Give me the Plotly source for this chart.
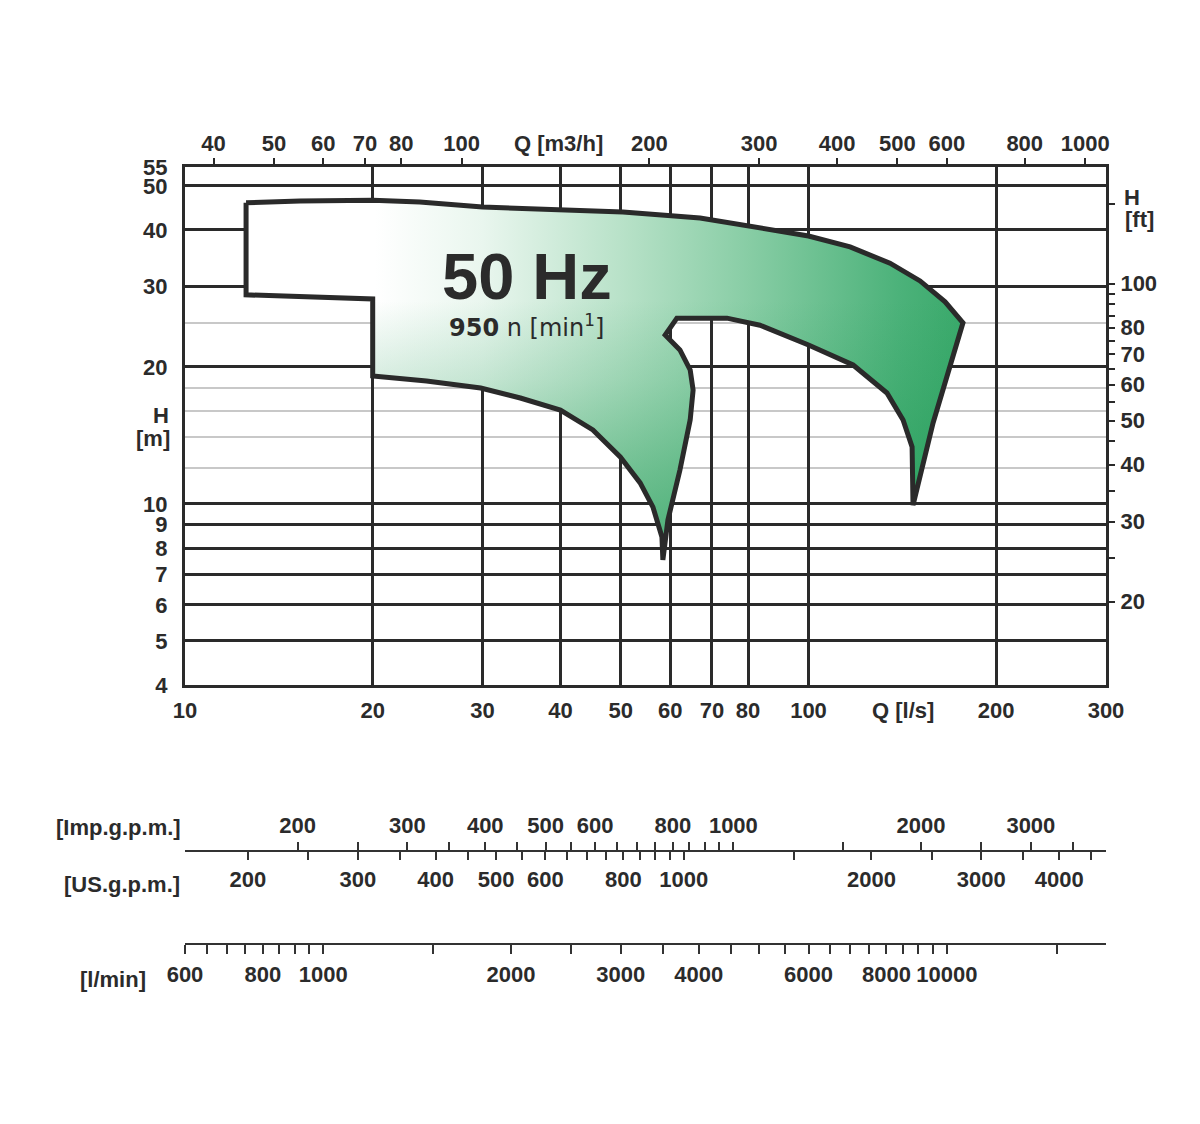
import plotly.graph_objects as go
import math

# ---------------- unit conversions (from l/s and m) ----------------
M3H_PER_LS = 3.6
IMP_GPM_PER_LS = 13.198
US_GPM_PER_LS = 15.850
LMIN_PER_LS = 60.0
FT_PER_M = 1 / 0.3048

Q_RANGE = [10, 300]   # l/s
H_RANGE = [4, 55]     # m

# ---------------- axis / grid values ----------------
q_ticks = [10, 20, 30, 40, 50, 60, 70, 80, 100, 200, 300]
h_ticks = [4, 5, 6, 7, 8, 9, 10, 20, 30, 40, 50, 55]
h_minor_grid = [12, 14, 16, 18, 25]
m3h_ticks = [40, 50, 60, 70, 80, 100, 200, 300, 400, 500, 600, 800, 1000]
ft_ticks = [20, 30, 40, 50, 60, 70, 80, 100]
ft_minor = [25, 35, 45, 55, 65, 75, 85, 90, 95, 150]
imp_ticks = [200, 300, 400, 500, 600, 800, 1000, 2000, 3000]
imp_minor = [250, 350, 450, 550, 650, 700, 750, 850, 900, 950, 1500, 2500, 3500]
us_ticks = [200, 300, 400, 500, 600, 800, 1000, 2000, 3000, 4000]
us_minor = [250, 350, 450, 550, 650, 700, 750, 850, 900, 950, 1500, 2500, 3500, 4500]
lmin_ticks = [600, 800, 1000, 2000, 3000, 4000, 6000, 8000, 10000]
lmin_minor = [650, 700, 750, 850, 900, 950, 1500, 2500, 3500, 4500, 5000, 5500,
              6500, 7000, 7500, 8500, 9000, 9500, 15000]

# ---------------- performance field outline (Q in l/s, H in m) ----------------
outline_q = [12.53, 15.29, 20.0, 23.8, 30.0, 40.0, 50.4, 67.0, 83.6, 100.0, 116.6,
             135.1, 151.0, 165.6, 176.9,
             168.6, 158.4, 147.1,
             147.1, 146.6, 141.8, 133.6, 117.9, 100.0, 83.6, 74.0, 61.5,
             58.9, 62.2, 64.6, 65.3, 64.6, 62.2, 59.5, 58.4,
             58.2, 56.3, 53.7, 49.9, 45.1, 40.0, 34.5, 29.8, 24.4, 20.0,
             20.0, 12.53, 12.53]
outline_h = [45.9, 46.3, 46.5, 46.1, 44.9, 44.3, 43.8, 42.5, 40.3, 38.8, 36.7,
             33.8, 30.9, 27.8, 25.0,
             20.0, 15.06, 9.94,
             11.87, 13.34, 15.29, 17.53, 20.2, 22.35, 24.7, 25.6, 25.6,
             23.5, 21.8, 19.7, 17.8, 15.3, 11.87, 9.22, 7.53,
             8.46, 9.84, 11.12, 12.68, 14.54, 16.08, 17.09, 17.98, 18.63, 19.1,
             28.2, 28.8, 45.9]

# left-to-right base shading and bottom-up darkening overlay (gives a diagonal look)
shade_horizontal = [[0.0, '#ffffff'], [0.18, '#ffffff'], [0.33, '#e9f6ee'],
                    [0.52, '#b9e2c9'], [0.70, '#88cda5'], [0.91, '#4cb27a'],
                    [1.0, '#3aa96b']]
shade_vertical = [[0.0, 'rgba(29,153,83,0.68)'], [0.25, 'rgba(29,153,83,0.45)'],
                  [0.5, 'rgba(29,153,83,0.18)'], [0.72, 'rgba(29,153,83,0.0)'],
                  [1.0, 'rgba(29,153,83,0.0)']]

W, H = 1200, 1124
PX_L, PX_R, PX_T, PX_B = 185, 1106, 167, 685
TXT = '#2b2b2b'
GRID = '#2a2a2a'
FONT = 'Liberation Sans, Arial, sans-serif'


def px(x):
    return x / W


def py(y):
    return 1 - y / H


def lg(v):
    return math.log10(v)


fig = go.Figure()

fig.add_trace(go.Scatter(
    x=outline_q, y=outline_h, mode='lines', fill='toself',
    fillgradient=dict(type='horizontal', colorscale=shade_horizontal),
    line=dict(width=0), hoverinfo='skip', showlegend=False))
fig.add_trace(go.Scatter(
    x=outline_q, y=outline_h, mode='lines', fill='toself',
    fillgradient=dict(type='vertical', colorscale=shade_vertical),
    line=dict(width=0), hoverinfo='skip', showlegend=False))
fig.add_trace(go.Scatter(
    x=outline_q, y=outline_h, mode='lines',
    line=dict(color=GRID, width=5), hoverinfo='skip', showlegend=False))

# invisible helper traces so every secondary scale is rendered
for ax, f in [('x2', M3H_PER_LS), ('x3', IMP_GPM_PER_LS), ('x4', US_GPM_PER_LS),
              ('x5', LMIN_PER_LS)]:
    fig.add_trace(go.Scatter(x=[Q_RANGE[0] * f, Q_RANGE[1] * f], y=H_RANGE,
                             xaxis=ax, yaxis='y', mode='markers',
                             marker=dict(opacity=0), hoverinfo='skip', showlegend=False))
fig.add_trace(go.Scatter(x=Q_RANGE, y=[H_RANGE[0] * FT_PER_M, H_RANGE[1] * FT_PER_M],
                         xaxis='x', yaxis='y2', mode='markers',
                         marker=dict(opacity=0), hoverinfo='skip', showlegend=False))

tick_font = dict(family=FONT, size=22, color=TXT, weight='bold')
xdom = [px(PX_L), px(PX_R)]

fig.update_layout(
    width=W, height=H, margin=dict(l=0, r=0, t=0, b=0, pad=0),
    paper_bgcolor='white', plot_bgcolor='white', showlegend=False,
    xaxis=dict(type='log', range=[lg(Q_RANGE[0]), lg(Q_RANGE[1])], domain=xdom,
               automargin=False,
               tickmode='array', tickvals=q_ticks, ticktext=[str(v) for v in q_ticks],
               showgrid=True, gridcolor=GRID, gridwidth=2.5, ticks='',
               showline=True, linecolor=GRID, linewidth=3, mirror=True,
               tickfont=tick_font, ticklabelstandoff=4, zeroline=False),
    yaxis=dict(type='log', range=[lg(H_RANGE[0]), lg(H_RANGE[1])],
               domain=[py(PX_B), py(PX_T)], automargin=False,
               tickmode='array', tickvals=h_ticks, ticktext=[str(v) for v in h_ticks],
               showgrid=True, gridcolor=GRID, gridwidth=2.5, ticks='',
               minor=dict(tickmode='array', tickvals=h_minor_grid, showgrid=True,
                          gridcolor='#c8c8c8', gridwidth=2, ticks=''),
               showline=True, linecolor=GRID, linewidth=3, mirror=True,
               tickfont=tick_font, ticklabelstandoff=10, zeroline=False),
    xaxis2=dict(type='log', overlaying='x', side='top', anchor='y', automargin=False,
                range=[lg(Q_RANGE[0] * M3H_PER_LS), lg(Q_RANGE[1] * M3H_PER_LS)],
                tickmode='array', tickvals=m3h_ticks, ticktext=[str(v) for v in m3h_ticks],
                ticks='outside', ticklen=8, tickwidth=2, tickcolor=GRID,
                showgrid=False, showline=False, tickfont=tick_font, ticklabelstandoff=-2),
    yaxis2=dict(type='log', overlaying='y', side='right', anchor='x', automargin=False,
                range=[lg(H_RANGE[0] * FT_PER_M), lg(H_RANGE[1] * FT_PER_M)],
                tickmode='array', tickvals=ft_ticks, ticktext=[str(v) for v in ft_ticks],
                ticks='outside', ticklen=8, tickwidth=2, tickcolor=GRID,
                minor=dict(tickmode='array', tickvals=ft_minor, ticks='outside',
                           ticklen=8, tickwidth=2, tickcolor=GRID, showgrid=False),
                showgrid=False, showline=False, tickfont=tick_font, ticklabelstandoff=1),
    xaxis3=dict(type='log', overlaying='x', side='top', anchor='free', position=py(851),
                automargin=False,
                range=[lg(Q_RANGE[0] * IMP_GPM_PER_LS), lg(Q_RANGE[1] * IMP_GPM_PER_LS)],
                tickmode='array', tickvals=imp_ticks, ticktext=[str(v) for v in imp_ticks],
                ticks='outside', ticklen=8, tickwidth=1.5, tickcolor='#333',
                minor=dict(tickmode='array', tickvals=imp_minor, ticks='outside',
                           ticklen=8, tickwidth=1.5, tickcolor='#333', showgrid=False),
                showgrid=False, showline=True, linecolor='#333', linewidth=2,
                tickfont=tick_font, ticklabelstandoff=0),
    xaxis4=dict(type='log', overlaying='x', side='bottom', anchor='free', position=py(851),
                automargin=False,
                range=[lg(Q_RANGE[0] * US_GPM_PER_LS), lg(Q_RANGE[1] * US_GPM_PER_LS)],
                tickmode='array', tickvals=us_ticks, ticktext=[str(v) for v in us_ticks],
                ticks='outside', ticklen=8, tickwidth=1.5, tickcolor='#333',
                minor=dict(tickmode='array', tickvals=us_minor, ticks='outside',
                           ticklen=8, tickwidth=1.5, tickcolor='#333', showgrid=False),
                showgrid=False, showline=False, tickfont=tick_font, ticklabelstandoff=1),
    xaxis5=dict(type='log', overlaying='x', side='bottom', anchor='free', position=py(944),
                automargin=False,
                range=[lg(Q_RANGE[0] * LMIN_PER_LS), lg(Q_RANGE[1] * LMIN_PER_LS)],
                tickmode='array', tickvals=lmin_ticks, ticktext=[str(v) for v in lmin_ticks],
                ticks='outside', ticklen=9, tickwidth=1.5, tickcolor='#333',
                minor=dict(tickmode='array', tickvals=lmin_minor, ticks='outside',
                           ticklen=9, tickwidth=1.5, tickcolor='#333', showgrid=False),
                showgrid=False, showline=True, linecolor='#333', linewidth=2,
                tickfont=tick_font, ticklabelstandoff=2),
)

ann_font = dict(family=FONT, size=22, color=TXT, weight='bold')
annotations = [
    dict(text='H', x=px(161), y=py(415), xanchor='center'),
    dict(text='[m]', x=px(153), y=py(438), xanchor='center'),
    dict(text='H', x=px(1132), y=py(197), xanchor='center'),
    dict(text='[ft]', x=px(1139), y=py(219), xanchor='center'),
    dict(text='Q [m3/h]', x=px(558), y=py(143), xanchor='center'),
    dict(text='Q [l/s]', x=px(903), y=py(710), xanchor='center'),
    dict(text='[Imp.g.p.m.]', x=px(183), y=py(827), xanchor='right'),
    dict(text='[US.g.p.m.]', x=px(182), y=py(884), xanchor='right'),
    dict(text='[l/min]', x=px(148), y=py(979), xanchor='right'),
]
for a in annotations:
    fig.add_annotation(xref='paper', yref='paper', showarrow=False, font=ann_font,
                       yanchor='middle', **a)

fig.add_annotation(xref='paper', yref='paper', showarrow=False, x=px(527), y=py(276),
                   xanchor='center', yanchor='middle', text='<b>50 Hz</b>',
                   font=dict(family=FONT, size=65, color=TXT))
fig.add_annotation(xref='paper', yref='paper', showarrow=False, x=px(526), y=py(326),
                   xanchor='center', yanchor='middle',
                   text='<b>950</b> n [min<sup>1</sup>]',
                   font=dict(family='DejaVu Sans, sans-serif', size=24, color=TXT))

fig.write_html('out.html')
